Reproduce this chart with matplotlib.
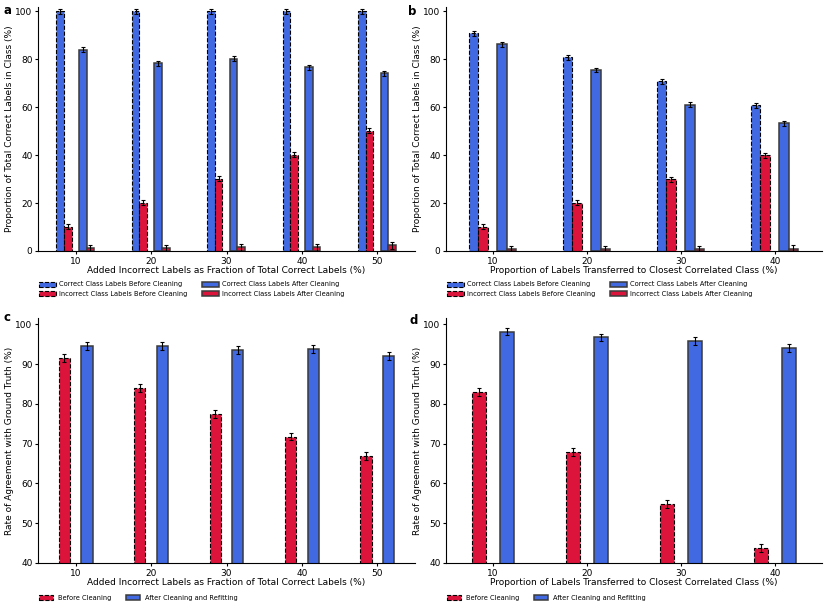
import numpy as np
import matplotlib.pyplot as plt
from matplotlib.patches import Patch

# === Data ===
added_frac = ["10", "20", "30", "40", "50"]
transfer_frac = ["10", "20", "30", "40"]

# panel a
a_corr_before = [100.0, 100.0, 100.0, 100.0, 100.0]
a_inc_before = [10.2, 20.2, 30.2, 40.2, 50.2]
a_corr_after = [84.0, 78.3, 80.3, 76.6, 74.1]
a_inc_after = [1.1, 1.1, 1.5, 1.5, 2.3]
a_err = [1.0, 1.0, 1.0, 1.0, 1.0]
a_err_inc_after = [1.5, 1.5, 1.4, 1.5, 1.3]

# panel b
b_corr_before = [90.8, 80.8, 70.8, 60.8]
b_inc_before = [10.2, 20.1, 29.9, 39.9]
b_corr_after = [86.3, 75.5, 61.0, 53.2]
b_inc_after = [1.0, 1.0, 1.0, 1.0]
b_err = [1.0, 1.0, 1.0, 1.0]
b_err_inc_after = [1.2, 1.2, 1.2, 1.5]

# panel c
c_before = [91.5, 83.9, 77.4, 71.8, 67.0]
c_after = [94.5, 94.5, 93.5, 93.8, 92.0]
c_err = [1.0, 1.0, 1.0, 1.0, 1.0]

# panel d
d_before = [83.1, 67.8, 54.9, 43.7]
d_after = [98.2, 96.7, 95.7, 94.0]
d_err = [1.0, 1.0, 1.0, 1.0]

BLUE = "#4169E1"
RED = "#DC143C"
xlab_added = "Added Incorrect Labels as Fraction of Total Correct Labels (%)"
xlab_transfer = "Proportion of Labels Transferred to Closest Correlated Class (%)"

TICK_FS = 6.5
LABEL_FS = 6.5
LEG_FS = 4.8

before_kw = dict(edgecolor="black", linestyle="--", linewidth=0.8)
after_kw = dict(edgecolor="#3a3a3a", linestyle="-", linewidth=1.1)
err_kw = dict(ecolor="black", capsize=1.7, error_kw=dict(elinewidth=0.8, capthick=0.8))

fig = plt.figure(figsize=(8.3, 6.12), dpi=100)
W, H = 830, 612


def add_ax(l, r, t, b):
    return fig.add_axes([l / W, 1 - b / H, (r - l) / W, (b - t) / H])


def style(ax, labels, xlabel, ylabel, ylim):
    x = np.arange(len(labels))
    ax.set_xticks(x)
    ax.set_xticklabels(labels)
    ax.set_xlim(-0.5, len(labels) - 0.5)
    ax.set_ylim(*ylim)
    ax.spines["top"].set_visible(False)
    ax.spines["right"].set_visible(False)
    ax.tick_params(labelsize=TICK_FS, length=2.5, width=0.8, pad=1.5)
    ax.set_xlabel(xlabel, fontsize=LABEL_FS, labelpad=0.5)
    ax.set_ylabel(ylabel, fontsize=LABEL_FS, labelpad=1)


def four_bar(ax, labels, cb, ib, ca, ia, err, err_ia, xlabel):
    x = np.arange(len(labels))
    w = 0.1
    ax.bar(x - 0.205, cb, w, color=BLUE, yerr=err, **before_kw, **err_kw)
    ax.bar(x - 0.105, ib, w, color=RED, yerr=err, **before_kw, **err_kw)
    ax.bar(x + 0.095, ca, w, color=BLUE, yerr=err, **after_kw, **err_kw)
    ax.bar(x + 0.195, ia, w, color=RED, yerr=err_ia, **after_kw, **err_kw)
    style(ax, labels, xlabel, "Proportion of Total Correct Labels in Class (%)",
          (0, 101.8))
    handles = [
        Patch(facecolor=BLUE, **before_kw, label="Correct Class Labels Before Cleaning"),
        Patch(facecolor=RED, **before_kw, label="Incorrect Class Labels Before Cleaning"),
        Patch(facecolor=BLUE, **after_kw, label="Correct Class Labels After Cleaning"),
        Patch(facecolor=RED, **after_kw, label="Incorrect Class Labels After Cleaning"),
    ]
    ax.legend(handles=handles, ncol=2, fontsize=LEG_FS, frameon=False,
              loc="upper left", bbox_to_anchor=(-0.004, -0.114),
              handlelength=2.55, handleheight=0.8, handletextpad=0.4,
              columnspacing=2.2, labelspacing=0.5, borderaxespad=0)


def two_bar(ax, labels, before, after, err, xlabel):
    x = np.arange(len(labels))
    w = 0.15
    ax.bar(x - 0.15, before, w, color=RED, yerr=err, **before_kw, **err_kw)
    ax.bar(x + 0.15, after, w, color=BLUE, yerr=err, **after_kw, **err_kw)
    style(ax, labels, xlabel, "Rate of Agreement with Ground Truth (%)",
          (40, 101.6))
    handles = [
        Patch(facecolor=RED, **before_kw, label="Before Cleaning"),
        Patch(facecolor=BLUE, **after_kw, label="After Cleaning and Refitting"),
    ]
    ax.legend(handles=handles, ncol=2, fontsize=LEG_FS, frameon=False,
              loc="upper left", bbox_to_anchor=(-0.004, -0.118),
              handlelength=2.1, handleheight=0.8, handletextpad=0.8,
              columnspacing=2.1, borderaxespad=0)


ax_a = add_ax(38, 415, 7, 251)
four_bar(ax_a, added_frac, a_corr_before, a_inc_before, a_corr_after, a_inc_after,
         a_err, a_err_inc_after, xlab_added)

ax_b = add_ax(446, 822, 7, 251)
four_bar(ax_b, transfer_frac, b_corr_before, b_inc_before, b_corr_after, b_inc_after,
         b_err, b_err_inc_after, xlab_transfer)

ax_c = add_ax(38, 415, 318, 563)
two_bar(ax_c, added_frac, c_before, c_after, c_err, xlab_added)

ax_d = add_ax(446, 822, 318, 563)
two_bar(ax_d, transfer_frac, d_before, d_after, d_err, xlab_transfer)

for lab, (px, py) in zip("abcd", [(3, 13.5), (408, 15), (3, 321), (409, 324)]):
    fig.text(px / W, 1 - py / H, lab, fontsize=8.5, fontweight="bold",
             ha="left", va="baseline")

fig.savefig("out.png", dpi=100)
